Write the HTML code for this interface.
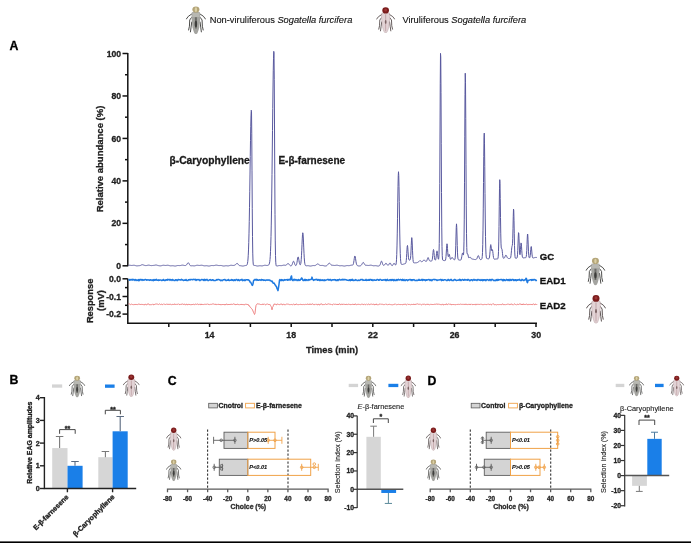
<!DOCTYPE html>
<html><head><meta charset="utf-8"><style>
html,body{margin:0;padding:0;background:#fff;overflow:hidden;}
body{position:relative;width:691px;height:543px;}
svg{display:block;filter:blur(0.35px);}
</style></head><body>
<svg width="691" height="543" viewBox="0 0 691 543">
<rect width="691" height="543" fill="#fff"/>
<defs>
<symbol id="bugG" viewBox="0 0 20 31" preserveAspectRatio="none">
 <g stroke="#3c3c3a" stroke-width="0.95" fill="none" stroke-linecap="round" stroke-linejoin="round">
  <path d="M6.2 9.2 L2.6 11.8 L0.5 14.8"/><path d="M13.8 9.2 L17.4 11.8 L19.5 14.8"/>
  <path d="M5.6 13.2 L3.9 15.8 L3.6 22.5 L2.8 26.5"/><path d="M14.4 13.2 L16.1 15.8 L16.4 22.5 L17.2 26.5"/>
  <path d="M5.9 18 L5.2 23.5 L4.6 28.5"/><path d="M14.1 18 L14.8 23.5 L15.4 28.5"/>
 </g>
 <path d="M6 7.6 Q10 6.4 14 7.6 L14.4 12.5 L13.4 23.5 Q11.9 31 10 31 Q8.1 31 6.6 23.5 L5.6 12.5 Z" fill="#a4a4a0"/>
 <path d="M6.6 8.2 L13.4 8.2 L13.7 12.5 L6.3 12.5 Z" fill="#b8b8b2"/>
 <path d="M9 13 L11 13 L10.9 25 L9.1 25 Z" fill="#6a6a66"/>
 <ellipse cx="10" cy="20" rx="1.2" ry="3.4" fill="#3e3e3c"/>
 <ellipse cx="10" cy="4.6" rx="3.5" ry="3.3" fill="#b3a478"/>
 <ellipse cx="10" cy="4.8" rx="1.2" ry="2.6" fill="#dbd0a4"/>
</symbol>
<symbol id="bugR" viewBox="0 0 20 31" preserveAspectRatio="none">
 <g stroke="#4e4444" stroke-width="0.95" fill="none" stroke-linecap="round" stroke-linejoin="round">
  <path d="M6.2 9.2 L2.6 11.8 L0.5 14.8"/><path d="M13.8 9.2 L17.4 11.8 L19.5 14.8"/>
  <path d="M5.6 13.2 L3.9 15.8 L3.6 22.5 L2.8 26.5"/><path d="M14.4 13.2 L16.1 15.8 L16.4 22.5 L17.2 26.5"/>
  <path d="M5.9 18 L5.2 23.5 L4.6 28.5"/><path d="M14.1 18 L14.8 23.5 L15.4 28.5"/>
 </g>
 <path d="M6 7.6 Q10 6.4 14 7.6 L14.4 12.5 L13.4 23.5 Q11.9 31 10 31 Q8.1 31 6.6 23.5 L5.6 12.5 Z" fill="#e2d3d5" stroke="#b49a9e" stroke-width="0.5"/>
 <path d="M9.4 9 L10.6 9 L10.5 29 L9.5 29 Z" fill="#c4a8ac"/>
 <ellipse cx="10" cy="18" rx="0.9" ry="2.2" fill="#7a6262"/>
 <ellipse cx="10" cy="4.6" rx="3.5" ry="3.6" fill="#7a1c1c"/>
 <ellipse cx="10" cy="4.1" rx="1.5" ry="1.8" fill="#9e3434"/>
</symbol>
</defs>
<use href="#bugG" x="185.8" y="5.2" width="20.2" height="29"/>
<text x="209.7" y="23.2" font-size="9.3" font-family="Liberation Sans, sans-serif" fill="#111" stroke="#111" stroke-width="0.12">Non-viruliferous <tspan font-style="italic">Sogatella furcifera</tspan></text>
<use href="#bugR" x="376.1" y="6.5" width="19.1" height="26.5"/>
<text x="402.4" y="23.2" font-size="9.3" font-family="Liberation Sans, sans-serif" fill="#111" stroke="#111" stroke-width="0.12">Viruliferous <tspan font-style="italic">Sogatella furcifera</tspan></text>
<text x="9.5" y="50" font-size="12.3" font-weight="bold" font-family="Liberation Sans, sans-serif" fill="#000" stroke="#000" stroke-width="0.3">A</text>
<g stroke="#111" stroke-width="1.5" fill="none">
<path d="M127.8 53 V266.3"/>
<path d="M122.5 265.8 H127.8"/>
<path d="M122.5 223.34 H127.8"/>
<path d="M122.5 180.88 H127.8"/>
<path d="M122.5 138.42 H127.8"/>
<path d="M122.5 95.96 H127.8"/>
<path d="M122.5 53.5 H127.8"/>
<path d="M125.0 244.57 H127.8"/>
<path d="M125.0 202.11 H127.8"/>
<path d="M125.0 159.65 H127.8"/>
<path d="M125.0 117.19 H127.8"/>
<path d="M125.0 74.73 H127.8"/>
</g>
<text x="121" y="268.9" font-size="8.6" font-weight="bold" text-anchor="end" font-family="Liberation Sans, sans-serif" fill="#222" stroke="#222" stroke-width="0.3">0</text>
<text x="121" y="226.44" font-size="8.6" font-weight="bold" text-anchor="end" font-family="Liberation Sans, sans-serif" fill="#222" stroke="#222" stroke-width="0.3">20</text>
<text x="121" y="183.98" font-size="8.6" font-weight="bold" text-anchor="end" font-family="Liberation Sans, sans-serif" fill="#222" stroke="#222" stroke-width="0.3">40</text>
<text x="121" y="141.52" font-size="8.6" font-weight="bold" text-anchor="end" font-family="Liberation Sans, sans-serif" fill="#222" stroke="#222" stroke-width="0.3">60</text>
<text x="121" y="99.06" font-size="8.6" font-weight="bold" text-anchor="end" font-family="Liberation Sans, sans-serif" fill="#222" stroke="#222" stroke-width="0.3">80</text>
<text x="121" y="56.6" font-size="8.6" font-weight="bold" text-anchor="end" font-family="Liberation Sans, sans-serif" fill="#222" stroke="#222" stroke-width="0.3">100</text>
<text transform="translate(102.8,159) rotate(-90)" font-size="9.5" font-weight="bold" text-anchor="middle" font-family="Liberation Sans, sans-serif" fill="#222" stroke="#222" stroke-width="0.3">Relative abundance (%)</text>
<polyline points="128.5,265.4 128.75,265.34 129,265.29 129.25,265.26 129.5,265.24 129.75,265.24 130,265.26 130.25,265.29 130.5,265.33 130.75,265.36 131,265.4 131.25,265.43 131.5,265.44 131.75,265.45 132,265.44 132.25,265.42 132.5,265.39 132.75,265.36 133,265.32 133.25,265.29 133.5,265.27 133.75,265.26 134,265.26 134.25,265.28 134.5,265.32 134.75,265.38 135,265.44 135.25,265.52 135.5,265.59 135.75,265.67 136,265.73 136.25,265.78 136.5,265.82 136.75,265.84 137,265.85 137.25,265.84 137.5,265.82 137.75,265.79 138,265.76 138.25,265.73 138.5,265.71 138.75,265.69 139,265.67 139.25,265.66 139.5,265.64 139.75,265.61 140,265.57 140.25,265.5 140.5,265.41 140.75,265.3 141,265.17 141.25,265.03 141.5,264.91 141.75,264.8 142,264.73 142.25,264.7 142.5,264.7 142.75,264.75 143,264.82 143.25,264.91 143.5,265 143.75,265.1 144,265.19 144.25,265.28 144.5,265.36 144.75,265.42 145,265.48 145.25,265.52 145.5,265.55 145.75,265.57 146,265.57 146.25,265.55 146.5,265.52 146.75,265.48 147,265.43 147.25,265.37 147.5,265.31 147.75,265.25 148,265.2 148.25,265.17 148.5,265.15 148.75,265.15 149,265.17 149.25,265.21 149.5,265.25 149.75,265.31 150,265.37 150.25,265.43 150.5,265.49 150.75,265.53 151,265.56 151.25,265.58 151.5,265.58 151.75,265.57 152,265.55 152.25,265.53 152.5,265.5 152.75,265.47 153,265.45 153.25,265.43 153.5,265.41 153.75,265.39 154,265.36 154.25,265.33 154.5,265.28 154.75,265.23 155,265.17 155.25,265.11 155.5,265.07 155.75,265.03 156,265.02 156.25,265.04 156.5,265.08 156.75,265.14 157,265.21 157.25,265.29 157.5,265.36 157.75,265.43 158,265.49 158.25,265.55 158.5,265.6 158.75,265.65 159,265.69 159.25,265.74 159.5,265.77 159.75,265.81 160,265.83 160.25,265.84 160.5,265.83 160.75,265.81 161,265.77 161.25,265.72 161.5,265.66 161.75,265.58 162,265.51 162.25,265.44 162.5,265.37 162.75,265.32 163,265.28 163.25,265.26 163.5,265.25 163.75,265.26 164,265.29 164.25,265.32 164.5,265.36 164.75,265.39 165,265.42 165.25,265.44 165.5,265.45 165.75,265.44 166,265.43 166.25,265.4 166.5,265.36 166.75,265.33 167,265.29 167.25,265.26 167.5,265.25 167.75,265.25 168,265.26 168.25,265.3 168.5,265.35 168.75,265.41 169,265.48 169.25,265.55 169.5,265.63 169.75,265.7 170,265.75 170.25,265.8 170.5,265.82 170.75,265.83 171,265.83 171.25,265.81 171.5,265.79 171.75,265.76 172,265.74 172.25,265.72 172.5,265.71 172.75,265.72 173,265.73 173.25,265.76 173.5,265.8 173.75,265.85 174,265.9 174.25,265.95 174.5,265.99 174.75,266.01 175,266.03 175.25,266.02 175.5,266 175.75,265.96 176,265.9 176.25,265.84 176.5,265.77 176.75,265.7 177,265.64 177.25,265.58 177.5,265.54 177.75,265.51 178,265.5 178.25,265.5 178.5,265.52 178.75,265.54 179,265.56 179.25,265.58 179.5,265.59 179.75,265.59 180,265.57 180.25,265.55 180.5,265.51 180.75,265.45 181,265.4 181.25,265.33 181.5,265.27 181.75,265.22 182,265.18 182.25,265.16 182.5,265.15 182.75,265.16 183,265.19 183.25,265.23 183.5,265.29 183.75,265.35 184,265.41 184.25,265.46 184.5,265.51 184.75,265.54 185,265.55 185.25,265.54 185.5,265.5 185.75,265.43 186,265.32 186.25,265.14 186.5,264.9 186.75,264.58 187,264.19 187.25,263.77 187.5,263.35 187.75,263 188,262.77 188.25,262.71 188.5,262.84 188.75,263.14 189,263.56 189.25,264.05 189.5,264.54 189.75,264.97 190,265.31 190.25,265.55 190.5,265.7 190.75,265.78 191,265.8 191.25,265.8 191.5,265.77 191.75,265.75 192,265.73 192.25,265.72 192.5,265.72 192.75,265.74 193,265.76 193.25,265.79 193.5,265.82 193.75,265.84 194,265.85 194.25,265.85 194.5,265.84 194.75,265.8 195,265.76 195.25,265.69 195.5,265.62 195.75,265.55 196,265.47 196.25,265.4 196.5,265.35 196.75,265.3 197,265.27 197.25,265.26 197.5,265.27 197.75,265.29 198,265.32 198.25,265.35 198.5,265.39 198.75,265.42 199,265.44 199.25,265.45 199.5,265.45 199.75,265.43 200,265.41 200.25,265.37 200.5,265.33 200.75,265.3 201,265.26 201.25,265.24 201.5,265.24 201.75,265.25 202,265.27 202.25,265.32 202.5,265.37 202.75,265.44 203,265.52 203.25,265.59 203.5,265.66 203.75,265.72 204,265.77 204.25,265.8 204.5,265.82 204.75,265.82 205,265.81 205.25,265.79 205.5,265.76 205.75,265.74 206,265.72 206.25,265.7 206.5,265.71 206.75,265.72 207,265.75 207.25,265.79 207.5,265.83 207.75,265.88 208,265.93 208.25,265.98 208.5,266.01 208.75,266.03 209,266.03 209.25,266.01 209.5,265.98 209.75,265.93 210,265.87 210.25,265.8 210.5,265.73 210.75,265.67 211,265.61 211.25,265.57 211.5,265.53 211.75,265.52 212,265.52 212.25,265.53 212.5,265.54 212.75,265.56 213,265.58 213.25,265.6 213.5,265.6 213.75,265.59 214,265.57 214.25,265.53 214.5,265.48 214.75,265.42 215,265.36 215.25,265.3 215.5,265.24 215.75,265.2 216,265.17 216.25,265.15 216.5,265.16 216.75,265.18 217,265.21 217.25,265.26 217.5,265.32 217.75,265.38 218,265.44 218.25,265.48 218.5,265.52 218.75,265.55 219,265.56 219.25,265.55 219.5,265.54 219.75,265.52 220,265.5 220.25,265.48 220.5,265.47 220.75,265.47 221,265.48 221.25,265.51 221.5,265.55 221.75,265.6 222,265.67 222.25,265.74 222.5,265.81 222.75,265.88 223,265.94 223.25,265.98 223.5,266 223.75,266.01 224,266 224.25,265.98 224.5,265.94 224.75,265.9 225,265.85 225.25,265.81 225.5,265.77 225.75,265.74 226,265.73 226.25,265.73 226.5,265.74 226.75,265.76 227,265.79 227.25,265.82 227.5,265.85 227.75,265.86 228,265.87 228.25,265.86 228.5,265.83 228.75,265.79 229,265.73 229.25,265.66 229.5,265.59 229.75,265.51 230,265.44 230.25,265.38 230.5,265.33 230.75,265.29 231,265.27 231.25,265.27 231.5,265.29 231.75,265.31 232,265.35 232.25,265.38 232.5,265.41 232.75,265.44 233,265.45 233.25,265.45 233.5,265.44 233.75,265.41 234,265.37 234.25,265.31 234.5,265.24 234.75,265.15 235,265.04 235.25,264.88 235.5,264.69 235.75,264.45 236,264.17 236.25,263.88 236.5,263.6 236.75,263.4 237,263.3 237.25,263.33 237.5,263.49 237.75,263.76 238,264.11 238.25,264.47 238.5,264.82 238.75,265.11 239,265.33 239.25,265.48 239.5,265.57 239.75,265.62 240,265.65 240.25,265.67 240.5,265.7 240.75,265.73 241,265.76 241.25,265.81 241.5,265.86 241.75,265.92 242,265.96 242.25,266 242.5,266.03 242.75,266.04 243,266.03 243.25,266 243.5,265.96 243.75,265.9 244,265.84 244.25,265.77 244.5,265.7 244.75,265.64 245,265.59 245.25,265.55 245.5,265.53 245.75,265.51 246,265.48 246.25,265.44 246.5,265.36 246.75,265.18 247,264.84 247.25,264.23 247.5,263.21 247.75,261.56 248,259.01 248.25,255.26 248.5,249.93 248.75,242.67 249,233.2 249.25,221.38 249.5,207.27 249.75,191.26 250,174.04 250.25,156.62 250.5,140.25 250.75,126.27 251,115.94 251.25,110.26 251.5,111.51 251.75,133.82 252,170.84 252.25,208.31 252.5,236.47 252.75,253.13 253,261.09 253.25,264.19 253.5,265.17 253.75,265.42 254,265.46 254.25,265.45 254.5,265.45 254.75,265.46 255,265.48 255.25,265.52 255.5,265.57 255.75,265.63 256,265.71 256.25,265.78 256.5,265.85 256.75,265.91 257,265.96 257.25,265.99 257.5,266 257.75,266 258,265.98 258.25,265.95 258.5,265.91 258.75,265.87 259,265.82 259.25,265.78 259.5,265.75 259.75,265.74 260,265.73 260.25,265.74 260.5,265.76 260.75,265.79 261,265.82 261.25,265.85 261.5,265.87 261.75,265.88 262,265.88 262.25,265.85 262.5,265.82 262.75,265.76 263,265.7 263.25,265.63 263.5,265.55 263.75,265.48 264,265.41 264.25,265.35 264.5,265.31 264.75,265.29 265,265.28 265.25,265.29 265.5,265.31 265.75,265.34 266,265.38 266.25,265.41 266.5,265.43 266.75,265.45 267,265.45 267.25,265.44 267.5,265.41 267.75,265.36 268,265.3 268.25,265.2 268.5,265.06 268.75,264.85 269,264.51 269.25,263.96 269.5,263.07 269.75,261.68 270,259.52 270.25,256.3 270.5,251.65 270.75,245.16 271,236.42 271.25,225.09 271.5,210.94 271.75,193.97 272,174.45 272.25,153 272.5,130.58 272.75,108.43 273,88.01 273.25,70.83 273.5,58.25 273.75,51.34 274,52.72 274.25,79.27 274.5,124.97 274.75,174.1 275,214.32 275.25,240.91 275.5,255.48 275.75,262.19 276,264.83 276.25,265.71 276.5,265.97 276.75,266.02 277,266.01 277.25,265.98 277.5,265.93 277.75,265.87 278,265.8 278.25,265.73 278.5,265.67 278.75,265.62 279,265.58 279.25,265.56 279.5,265.54 279.75,265.55 280,265.56 280.25,265.58 280.5,265.6 280.75,265.62 281,265.63 281.25,265.63 281.5,265.61 281.75,265.58 282,265.54 282.25,265.48 282.5,265.42 282.75,265.36 283,265.29 283.25,265.24 283.5,265.19 283.75,265.16 284,265.15 284.25,265.16 284.5,265.18 284.75,265.22 285,265.25 285.25,265.29 285.5,265.3 285.75,265.28 286,265.21 286.25,265.08 286.5,264.88 286.75,264.62 287,264.31 287.25,264 287.5,263.72 287.75,263.53 288,263.45 288.25,263.5 288.5,263.67 288.75,263.95 289,264.28 289.25,264.62 289.5,264.95 289.75,265.24 290,265.47 290.25,265.65 290.5,265.77 290.75,265.84 291,265.85 291.25,265.79 291.5,265.61 291.75,265.3 292,264.84 292.25,264.21 292.5,263.45 292.75,262.66 293,261.94 293.25,261.44 293.5,261.25 293.75,261.41 294,261.89 294.25,262.58 294.5,263.36 294.75,264.1 295,264.72 295.25,265.18 295.5,265.47 295.75,265.58 296,265.51 296.25,265.22 296.5,264.63 296.75,263.68 297,262.36 297.25,260.76 297.5,259.1 297.75,257.72 298,256.95 298.25,256.99 298.5,257.81 298.75,259.19 299,260.78 299.25,262.29 299.5,263.49 299.75,264.31 300,264.76 300.25,264.84 300.5,264.52 300.75,263.65 301,261.99 301.25,259.27 301.5,255.31 301.75,250.21 302,244.45 302.25,238.92 302.5,234.71 302.75,232.78 303,233.6 303.25,236.97 303.5,242.09 303.75,247.88 304,253.34 304.25,257.82 304.5,261.08 304.75,263.21 305,264.48 305.25,265.17 305.5,265.52 305.75,265.68 306,265.75 306.25,265.77 306.5,265.76 306.75,265.75 307,265.72 307.25,265.7 307.5,265.68 307.75,265.68 308,265.68 308.25,265.7 308.5,265.73 308.75,265.77 309,265.82 309.25,265.88 309.5,265.93 309.75,265.98 310,266.02 310.25,266.04 310.5,266.04 310.75,266.03 311,266 311.25,265.95 311.5,265.9 311.75,265.83 312,265.77 312.25,265.7 312.5,265.65 312.75,265.6 313,265.57 313.25,265.56 313.5,265.56 313.75,265.56 314,265.57 314.25,265.58 314.5,265.58 314.75,265.57 315,265.53 315.25,265.45 315.5,265.35 315.75,265.2 316,265.02 316.25,264.81 316.5,264.6 316.75,264.39 317,264.2 317.25,264.06 317.5,263.98 317.75,263.97 318,264.02 318.25,264.14 318.5,264.3 318.75,264.5 319,264.7 319.25,264.9 319.5,265.07 319.75,265.22 320,265.33 320.25,265.41 320.5,265.46 320.75,265.48 321,265.48 321.25,265.47 321.5,265.45 321.75,265.43 322,265.42 322.25,265.42 322.5,265.43 322.75,265.46 323,265.51 323.25,265.56 323.5,265.63 323.75,265.7 324,265.78 324.25,265.85 324.5,265.9 324.75,265.95 325,265.98 325.25,265.99 325.5,265.98 325.75,265.95 326,265.9 326.25,265.83 326.5,265.74 326.75,265.62 327,265.46 327.25,265.26 327.5,265.01 327.75,264.71 328,264.37 328.25,264.01 328.5,263.67 328.75,263.38 329,263.18 329.25,263.1 329.5,263.15 329.75,263.32 330,263.58 330.25,263.9 330.5,264.23 330.75,264.53 331,264.78 331.25,264.97 331.5,265.1 331.75,265.18 332,265.23 332.25,265.25 332.5,265.27 332.75,265.29 333,265.31 333.25,265.34 333.5,265.37 333.75,265.4 334,265.43 334.25,265.45 334.5,265.46 334.75,265.46 335,265.44 335.25,265.41 335.5,265.38 335.75,265.33 336,265.29 336.25,265.25 336.5,265.22 336.75,265.2 337,265.2 337.25,265.22 337.5,265.26 337.75,265.31 338,265.37 338.25,265.44 338.5,265.51 338.75,265.58 339,265.65 339.25,265.7 339.5,265.74 339.75,265.76 340,265.76 340.25,265.76 340.5,265.74 340.75,265.72 341,265.7 341.25,265.68 341.5,265.67 341.75,265.67 342,265.68 342.25,265.71 342.5,265.75 342.75,265.8 343,265.85 343.25,265.91 343.5,265.96 343.75,266 344,266.03 344.25,266.05 344.5,266.04 344.75,266.02 345,265.98 345.25,265.92 345.5,265.86 345.75,265.8 346,265.73 346.25,265.68 346.5,265.63 346.75,265.6 347,265.58 347.25,265.57 347.5,265.58 347.75,265.59 348,265.62 348.25,265.64 348.5,265.65 348.75,265.66 349,265.65 349.25,265.63 349.5,265.59 349.75,265.54 350,265.48 350.25,265.42 350.5,265.35 350.75,265.29 351,265.23 351.25,265.19 351.5,265.17 351.75,265.16 352,265.16 352.25,265.16 352.5,265.13 352.75,265.03 353,264.78 353.25,264.26 353.5,263.39 353.75,262.1 354,260.46 354.25,258.68 354.5,257.13 354.75,256.16 355,256.05 355.25,256.82 355.5,258.26 355.75,260.01 356,261.72 356.25,263.13 356.5,264.15 356.75,264.82 357,265.23 357.25,265.47 357.5,265.62 357.75,265.72 358,265.81 358.25,265.87 358.5,265.93 358.75,265.96 359,265.98 359.25,265.98 359.5,265.96 359.75,265.93 360,265.88 360.25,265.81 360.5,265.73 360.75,265.61 361,265.45 361.25,265.22 361.5,264.92 361.75,264.54 362,264.08 362.25,263.59 362.5,263.11 362.75,262.72 363,262.47 363.25,262.42 363.5,262.57 363.75,262.89 364,263.32 364.25,263.79 364.5,264.24 364.75,264.62 365,264.9 365.25,265.09 365.5,265.2 365.75,265.26 366,265.28 366.25,265.3 366.5,265.31 366.75,265.32 367,265.34 367.25,265.37 367.5,265.4 367.75,265.43 368,265.45 368.25,265.46 368.5,265.46 368.75,265.45 369,265.43 369.25,265.39 369.5,265.35 369.75,265.3 370,265.26 370.25,265.22 370.5,265.2 370.75,265.19 371,265.2 371.25,265.23 371.5,265.28 371.75,265.33 372,265.4 372.25,265.47 372.5,265.55 372.75,265.61 373,265.67 373.25,265.71 373.5,265.74 373.75,265.75 374,265.75 374.25,265.73 374.5,265.71 374.75,265.69 375,265.67 375.25,265.66 375.5,265.65 375.75,265.66 376,265.69 376.25,265.73 376.5,265.77 376.75,265.83 377,265.89 377.25,265.94 377.5,265.99 377.75,266.02 378,266.04 378.25,266.05 378.5,266.03 378.75,265.98 379,265.91 379.25,265.8 379.5,265.63 379.75,265.35 380,264.93 380.25,264.33 380.5,263.56 380.75,262.69 381,261.88 381.25,261.3 381.5,261.1 381.75,261.34 382,261.94 382.25,262.76 382.5,263.61 382.75,264.34 383,264.87 383.25,265.2 383.5,265.36 383.75,265.39 384,265.33 384.25,265.19 384.5,264.97 384.75,264.67 385,264.29 385.25,263.89 385.5,263.52 385.75,263.26 386,263.19 386.25,263.32 386.5,263.62 386.75,264.03 387,264.46 387.25,264.82 387.5,265.1 387.75,265.26 388,265.31 388.25,265.24 388.5,265.05 388.75,264.73 389,264.3 389.25,263.81 389.5,263.35 389.75,263.01 390,262.9 390.25,263.03 390.5,263.39 390.75,263.88 391,264.41 391.25,264.88 391.5,265.25 391.75,265.5 392,265.62 392.25,265.61 392.5,265.47 392.75,265.19 393,264.78 393.25,264.29 393.5,263.8 393.75,263.43 394,263.27 394.25,263.35 394.5,263.65 394.75,264.09 395,264.54 395.25,264.88 395.5,265.06 395.75,264.94 396,264.32 396.25,262.81 396.5,259.78 396.75,254.43 397,245.94 397.25,233.91 397.5,218.77 397.75,202.16 398,186.78 398.25,175.79 398.5,171.73 398.75,175.58 399,186.36 399.25,201.55 399.5,218.01 399.75,233.02 400,244.96 400.25,253.38 400.5,258.71 400.75,261.75 401,263.31 401.25,264.05 401.5,264.35 401.75,264.46 402,264.49 402.25,264.47 402.5,264.43 402.75,264.37 403,264.3 403.25,264.22 403.5,264.14 403.75,264.05 404,263.97 404.25,263.89 404.5,263.82 404.75,263.76 405,263.7 405.25,263.63 405.5,263.49 405.75,263.15 406,262.34 406.25,260.64 406.5,257.69 406.75,253.57 407,249.19 407.25,246.07 407.5,245.48 407.75,247.58 408,251.27 408.25,255.02 408.5,257.76 408.75,259.29 409,259.93 409.25,260.1 409.5,260.11 409.75,260.08 410,259.96 410.25,259.51 410.5,258.25 410.75,255.55 411,251.07 411.25,245.35 411.5,240.12 411.75,237.61 412,239.1 412.25,244 412.5,250.25 412.75,255.78 413,259.54 413.25,261.58 413.5,262.48 413.75,262.79 414,262.87 414.25,262.87 414.5,262.85 414.75,262.83 415,262.82 415.25,262.81 415.5,262.8 415.75,262.8 416,262.78 416.25,262.76 416.5,262.73 416.75,262.69 417,262.63 417.25,262.55 417.5,262.45 417.75,262.34 418,262.21 418.25,262.05 418.5,261.85 418.75,261.62 419,261.35 419.25,261.07 419.5,260.82 419.75,260.65 420,260.58 420.25,260.65 420.5,260.82 420.75,261.05 421,261.29 421.25,261.49 421.5,261.62 421.75,261.69 422,261.67 422.25,261.59 422.5,261.43 422.75,261.19 423,260.89 423.25,260.56 423.5,260.24 423.75,260.01 424,259.92 424.25,259.98 424.5,260.18 424.75,260.47 425,260.79 425.25,261.07 425.5,261.29 425.75,261.43 426,261.49 426.25,261.44 426.5,261.23 426.75,260.83 427,260.2 427.25,259.38 427.5,258.51 427.75,257.82 428,257.51 428.25,257.68 428.5,258.23 428.75,258.99 429,259.72 429.25,260.29 429.5,260.66 429.75,260.87 430,260.98 430.25,261.05 430.5,261.08 430.75,261.1 431,261.11 431.25,261.08 431.5,261.02 431.75,260.86 432,260.47 432.25,259.62 432.5,258.06 432.75,255.68 433,252.86 433.25,250.48 433.5,249.5 433.75,250.37 434,252.66 434.25,255.38 434.5,257.68 434.75,259.17 435,259.93 435.25,260.18 435.5,260.03 435.75,259.41 436,258.13 436.25,256.13 436.5,253.74 436.75,251.71 437,250.87 437.25,251.6 437.5,253.55 437.75,255.86 438,257.78 438.25,258.96 438.5,259.25 438.75,258.19 439,254.12 439.25,243.48 439.5,221.13 439.75,183.32 440,133 440.25,83.29 440.5,53.39 440.75,57 441,92.41 441.25,143.8 441.5,192.4 441.75,227.1 442,246.74 442.25,255.72 442.5,259.09 442.75,260.12 443,260.37 443.25,260.43 443.5,260.45 443.75,260.47 444,260.51 444.25,260.55 444.5,260.6 444.75,260.64 445,260.64 445.25,260.5 445.5,260.03 445.75,258.86 446,256.58 446.25,253.05 446.5,248.83 446.75,245.24 447,243.77 447.25,245.07 447.5,248.46 447.75,252.36 448,255.32 448.25,256.66 448.5,256.49 448.75,255.48 449,254.51 449.25,254.26 449.5,254.96 449.75,256.3 450,257.72 450.25,258.77 450.5,259.27 450.75,259.3 451,258.99 451.25,258.52 451.5,258.02 451.75,257.62 452,257.42 452.25,257.47 452.5,257.73 452.75,258.12 453,258.55 453.25,258.94 453.5,259.25 453.75,259.46 454,259.61 454.25,259.7 454.5,259.74 454.75,259.61 455,259 455.25,257.18 455.5,253.02 455.75,245.71 456,236.09 456.25,227.42 456.5,223.85 456.75,227.35 457,235.97 457.25,245.55 457.5,252.85 457.75,257.02 458,258.88 458.25,259.56 458.5,259.79 458.75,259.88 459,259.96 459.25,260.03 459.5,260.09 459.75,260.15 460,260.19 460.25,260.2 460.5,260.16 460.75,260.02 461,259.7 461.25,259.09 461.5,258.1 461.75,256.75 462,255.2 462.25,253.84 462.5,253.05 462.75,253.11 463,253.9 463.25,254.88 463.5,254.85 463.75,251.54 464,241.17 464.25,219.1 464.5,182.84 464.75,136.87 465,94.61 465.25,73.22 465.5,82.65 465.75,118.4 466,164.81 466.25,205.86 466.5,233.34 466.75,247.53 467,252.86 467.25,253.92 467.5,253.81 467.75,254.02 468,254.9 468.25,256.13 468.5,257.21 468.75,257.83 469,257.96 469.25,257.75 469.5,257.4 469.75,257.11 470,256.98 470.25,257.08 470.5,257.37 470.75,257.76 471,258.18 471.25,258.53 471.5,258.78 471.75,258.94 472,259.02 472.25,259.06 472.5,259.09 472.75,259.12 473,259.16 473.25,259.21 473.5,259.27 473.75,259.33 474,259.39 474.25,259.45 474.5,259.5 474.75,259.53 475,259.55 475.25,259.55 475.5,259.53 475.75,259.5 476,259.43 476.25,259.32 476.5,259.12 476.75,258.81 477,258.35 477.25,257.73 477.5,257.01 477.75,256.31 478,255.79 478.25,255.58 478.5,255.74 478.75,256.26 479,256.99 479.25,257.77 479.5,258.47 479.75,258.99 480,259.32 480.25,259.5 480.5,259.56 480.75,259.55 481,259.51 481.25,259.43 481.5,259.32 481.75,259.06 482,258.39 482.25,256.66 482.5,252.63 482.75,244.45 483,230.16 483.25,208.91 483.5,182.56 483.75,156.41 484,137.86 484.25,133.11 484.5,143.86 484.75,166.32 485,193.33 485.25,218.03 485.5,236.48 485.75,248.05 486,254.23 486.25,257.06 486.5,258.17 486.75,258.53 487,258.63 487.25,258.66 487.5,258.68 487.75,258.7 488,258.74 488.25,258.77 488.5,258.8 488.75,258.78 489,258.63 489.25,258.14 489.5,257.01 489.75,254.89 490,251.78 490.25,248.26 490.5,245.5 490.75,244.61 491,245.8 491.25,248.09 491.5,250.04 491.75,250.69 492,250.2 492.25,249.57 492.5,249.81 492.75,251.28 493,253.51 493.25,255.74 493.5,257.43 493.75,258.44 494,258.94 494.25,259.13 494.5,259.19 494.75,259.2 495,259.17 495.25,259.14 495.5,259.09 495.75,259.05 496,259.01 496.25,258.98 496.5,258.96 496.75,258.96 497,258.96 497.25,258.97 497.5,258.96 497.75,258.81 498,258.18 498.25,256.26 498.5,251.5 498.75,241.91 499,226.4 499.25,206.82 499.5,188.83 499.75,179.68 500,183.55 500.25,198.43 500.5,217.53 500.75,233.86 501,243.88 501.25,247.96 501.5,248.63 501.75,248.56 502,249.34 502.25,251.24 502.5,253.63 502.75,255.74 503,257.19 503.25,257.96 503.5,258.29 503.75,258.36 504,258.27 504.25,258.07 504.5,257.73 504.75,257.26 505,256.68 505.25,256.06 505.5,255.52 505.75,255.18 506,255.12 506.25,255.37 506.5,255.84 506.75,256.42 507,257.01 507.25,257.5 507.5,257.88 507.75,258.14 508,258.31 508.25,258.42 508.5,258.48 508.75,258.51 509,258.52 509.25,258.52 509.5,258.5 509.75,258.47 510,258.41 510.25,258.26 510.5,257.9 510.75,257.08 511,255.52 511.25,253.14 511.5,250.28 511.75,247.76 512,246.3 512.25,245.58 512.5,243.75 512.75,238.27 513,228.28 513.25,216.6 513.5,209.07 513.75,210.4 514,220.28 514.25,233.78 514.5,245.5 514.75,252.92 515,256.51 515.25,257.85 515.5,258.22 515.75,258.28 516,258.27 516.25,258.25 516.5,258.23 516.75,258.17 517,257.89 517.25,257.01 517.5,254.78 517.75,250.42 518,243.95 518.25,237.04 518.5,232.66 518.75,233.14 519,238.16 519.25,245.07 519.5,250.94 519.75,254.24 520,254.77 520.25,252.93 520.5,249.37 520.75,245.41 521,242.91 521.25,243.21 521.5,246.17 521.75,250.25 522,253.82 522.25,256.11 522.5,257.24 522.75,257.69 523,257.84 523.25,257.88 523.5,257.88 523.75,257.86 524,257.83 524.25,257.79 524.5,257.76 524.75,257.73 525,257.7 525.25,257.69 525.5,257.68 525.75,257.63 526,257.39 526.25,256.6 526.5,254.55 526.75,250.51 527,244.48 527.25,238.05 527.5,234.02 527.75,234.55 528,239.38 528.25,246.01 528.5,251.76 528.75,255.41 529,257.17 529.25,257.8 529.5,257.89 529.75,257.64 530,256.91 530.25,255.37 530.5,252.83 530.75,249.72 531,247.2 531.25,246.54 531.5,248.11 531.75,251.08 532,254.09 532.25,256.24 532.5,257.4 532.75,257.87 533,258.01 533.25,258.01 533.5,257.95 533.75,257.88 534,257.8 534.25,257.72 534.5,257.64 534.75,257.57 535,257.51 535.25,257.47 535.5,257.44 535.75,257.42 536,257.42 536.25,257.44 536.5,257.45 536.75,257.47 537,257.48" fill="none" stroke="#58589e" stroke-width="1.0" stroke-linejoin="round"/>
<text x="169.5" y="163.7" font-size="10.25" font-weight="bold" font-family="Liberation Sans, sans-serif" fill="#1a1a1a" stroke="#1a1a1a" stroke-width="0.3">β-Caryophyllene</text>
<text x="278.4" y="163.6" font-size="10" font-weight="bold" font-family="Liberation Sans, sans-serif" fill="#1a1a1a" stroke="#1a1a1a" stroke-width="0.3">E-β-farnesene</text>
<g stroke="#111" stroke-width="1.5" fill="none">
<path d="M127.8 278.8 V323.3 H537"/>
<path d="M122.5 278.8 H127.8"/>
<path d="M122.5 296.5 H127.8"/>
<path d="M122.5 314.1 H127.8"/>
<path d="M125.0 287.6 H127.8"/>
<path d="M125.0 305.3 H127.8"/>
<path d="M168.8 323.3 V327"/>
<path d="M209.6 323.3 V327"/>
<path d="M250.4 323.3 V327"/>
<path d="M291.2 323.3 V327"/>
<path d="M332 323.3 V327"/>
<path d="M372.8 323.3 V327"/>
<path d="M413.6 323.3 V327"/>
<path d="M454.4 323.3 V327"/>
<path d="M495.2 323.3 V327"/>
<path d="M536 323.3 V327"/>
</g>
<text x="121" y="281.9" font-size="8.6" font-weight="bold" text-anchor="end" font-family="Liberation Sans, sans-serif" fill="#222" stroke="#222" stroke-width="0.3">0.0</text>
<text x="121" y="299.6" font-size="8.6" font-weight="bold" text-anchor="end" font-family="Liberation Sans, sans-serif" fill="#222" stroke="#222" stroke-width="0.3">-0.1</text>
<text x="121" y="317.2" font-size="8.6" font-weight="bold" text-anchor="end" font-family="Liberation Sans, sans-serif" fill="#222" stroke="#222" stroke-width="0.3">-0.2</text>
<text transform="translate(92.6,300.9) rotate(-90)" font-size="9.3" font-weight="bold" text-anchor="middle" font-family="Liberation Sans, sans-serif" fill="#222" stroke="#222" stroke-width="0.3">Response</text>
<text transform="translate(104.3,300.6) rotate(-90)" font-size="9.3" font-weight="bold" text-anchor="middle" font-family="Liberation Sans, sans-serif" fill="#222" stroke="#222" stroke-width="0.3">(mV)</text>
<text x="209.6" y="338.3" font-size="8.8" font-weight="bold" text-anchor="middle" font-family="Liberation Sans, sans-serif" fill="#222" stroke="#222" stroke-width="0.3">14</text>
<text x="291.25" y="338.3" font-size="8.8" font-weight="bold" text-anchor="middle" font-family="Liberation Sans, sans-serif" fill="#222" stroke="#222" stroke-width="0.3">18</text>
<text x="372.9" y="338.3" font-size="8.8" font-weight="bold" text-anchor="middle" font-family="Liberation Sans, sans-serif" fill="#222" stroke="#222" stroke-width="0.3">22</text>
<text x="454.55" y="338.3" font-size="8.8" font-weight="bold" text-anchor="middle" font-family="Liberation Sans, sans-serif" fill="#222" stroke="#222" stroke-width="0.3">26</text>
<text x="536.2" y="338.3" font-size="8.8" font-weight="bold" text-anchor="middle" font-family="Liberation Sans, sans-serif" fill="#222" stroke="#222" stroke-width="0.3">30</text>
<text x="332" y="352.8" font-size="9.3" font-weight="bold" text-anchor="middle" font-family="Liberation Sans, sans-serif" fill="#222" stroke="#222" stroke-width="0.3">Times (min)</text>
<polyline points="128.5,279.77 129,279.55 129.5,280.2 130,279.44 130.5,280.05 131,279.83 131.5,279.43 132,280.01 132.5,279.4 133,279.91 133.5,279.44 134,279.47 134.5,279.9 135,280.42 135.5,279.51 136,279.64 136.5,280.17 137,280.58 137.5,280.1 138,279.87 138.5,280.62 139,279.41 139.5,280.47 140,279.73 140.5,279.54 141,279.5 141.5,279.75 142,280.41 142.5,279.58 143,280.11 143.5,280.18 144,279.83 144.5,280.06 145,279.43 145.5,279.43 146,279.62 146.5,280.23 147,279.91 147.5,279.76 148,280.11 148.5,279.94 149,279.74 149.5,280.38 150,280.26 150.5,279.67 151,280.1 151.5,280.03 152,280.49 152.5,280.3 153,279.72 153.5,280.62 154,279.5 154.5,279.89 155,280.33 155.5,279.55 156,279.99 156.5,279.4 157,280.22 157.5,280.34 158,280.09 158.5,280.49 159,279.76 159.5,280.25 160,280.12 160.5,280.1 161,279.94 161.5,280.44 162,280.58 162.5,279.97 163,280.21 163.5,279.43 164,280.26 164.5,280.19 165,280.64 165.5,280.42 166,279.72 166.5,279.85 167,280.22 167.5,279.38 168,279.95 168.5,279.57 169,279.5 169.5,279.43 170,280.35 170.5,279.52 171,279.67 171.5,279.86 172,280.48 172.5,279.45 173,279.93 173.5,280.06 174,280.5 174.5,280.42 175,280.47 175.5,279.71 176,279.89 176.5,279.82 177,280.5 177.5,280.6 178,279.55 178.5,279.58 179,279.65 179.5,279.65 180,279.98 180.5,280.12 181,279.69 181.5,279.36 182,279.89 182.5,279.83 183,280.09 183.5,280.59 184,280.25 184.5,280.02 185,280.15 185.5,280.23 186,279.42 186.5,280.52 187,280.36 187.5,280.49 188,280.39 188.5,279.86 189,279.87 189.5,279.48 190,280.17 190.5,279.43 191,279.44 191.5,279.62 192,279.56 192.5,279.79 193,279.42 193.5,279.35 194,279.55 194.5,279.48 195,279.82 195.5,279.38 196,280.49 196.5,280.15 197,279.54 197.5,279.68 198,279.8 198.5,279.82 199,279.51 199.5,280.45 200,280.64 200.5,279.96 201,279.98 201.5,279.46 202,279.48 202.5,279.8 203,279.69 203.5,280.43 204,279.56 204.5,279.38 205,280.59 205.5,280.04 206,279.54 206.5,280.06 207,279.39 207.5,280.04 208,280.62 208.5,280.47 209,280.26 209.5,279.69 210,279.83 210.5,279.57 211,280.35 211.5,280.04 212,280.36 212.5,279.78 213,279.64 213.5,280.4 214,280.63 214.5,280.46 215,280.4 215.5,280.41 216,280.31 216.5,279.64 217,280.02 217.5,279.81 218,279.39 218.5,279.39 219,279.71 219.5,279.69 220,280.25 220.5,280.59 221,279.93 221.5,280.57 222,280.63 222.5,280.59 223,279.82 223.5,279.64 224,279.64 224.5,279.61 225,279.62 225.5,280.16 226,280.52 226.5,280.44 227,279.97 227.5,280.2 228,280.39 228.5,279.46 229,280.21 229.5,280.53 230,280.37 230.5,280.33 231,279.97 231.5,279.58 232,280.38 232.5,279.78 233,280.39 233.5,280.61 234,279.86 234.5,279.87 235,280.58 235.5,280.29 236,279.57 236.5,279.52 237,279.55 237.5,280.53 238,280.4 238.5,279.54 239,280.42 239.5,280.62 240,280.2 240.5,279.81 241,280.06 241.5,279.52 242,279.37 242.5,280.61 243,280.19 243.5,280.03 244,280.56 244.5,279.91 245,280.48 245.5,280.42 246,279.62 246.5,279.68 247,279.73 247.5,279.66 248,280.11 248.5,279.85 249,280.39 249.5,280.47 250,282.04 250.5,281.96 251,282.82 251.5,283.79 252,285.08 252.5,285.4 253,283.75 253.5,280.92 254,280.04 254.5,280.03 255,279.37 255.5,279.92 256,279.59 256.5,279.36 257,280.39 257.5,279.57 258,279.97 258.5,280.29 259,280.07 259.5,279.77 260,280.02 260.5,280.07 261,280.37 261.5,279.49 262,280.08 262.5,279.67 263,279.71 263.5,280.35 264,280.01 264.5,280.08 265,280.34 265.5,280.54 266,279.93 266.5,280.15 267,280.01 267.5,280.02 268,280.25 268.5,279.94 269,280.04 269.5,279.97 270,280.62 270.5,280.5 271,281.01 271.5,281.45 272,280.98 272.5,281.85 273,282.89 273.5,283.34 274,283.06 274.5,283.72 275,284.86 275.5,285.14 276,286.17 276.5,286.79 277,288.45 277.5,289.52 278,290.62 278.5,287.63 279,284.32 279.5,280.21 280,279.54 280.5,280.5 281,280.61 281.5,279.64 282,280.59 282.5,279.87 283,279.98 283.5,280.64 284,280.43 284.5,279.56 285,279.91 285.5,280.02 286,279.79 286.5,279.6 287,279.76 287.5,280.29 288,279.38 288.5,280.07 289,279.92 289.5,279.37 290,279.78 290.5,279.98 291,276.86 291.5,275.93 292,279.63 292.5,280.37 293,280.61 293.5,279.49 294,279.7 294.5,279.4 295,280.36 295.5,279.7 296,279.52 296.5,279.9 297,280.53 297.5,280.41 298,279.69 298.5,279.54 299,280.54 299.5,280.09 300,280.26 300.5,279.47 301,279.29 301.5,277.9 302,278.4 302.5,279.44 303,280.57 303.5,280.17 304,280.39 304.5,279.46 305,280.46 305.5,279.44 306,280.47 306.5,279.94 307,279.79 307.5,280.07 308,280.55 308.5,279.7 309,279.52 309.5,280.03 310,279.66 310.5,279.49 311,279.56 311.5,279.08 312,277.11 312.5,278.82 313,279.75 313.5,280.34 314,279.73 314.5,280 315,279.58 315.5,279.8 316,279.37 316.5,279.68 317,279.37 317.5,280.3 318,280.07 318.5,279.6 319,279.97 319.5,280.57 320,279.49 320.5,280.41 321,279.91 321.5,279.99 322,280.43 322.5,279.86 323,280.01 323.5,280.24 324,280.63 324.5,279.8 325,280.43 325.5,280.27 326,280.18 326.5,279.88 327,279.8 327.5,279.42 328,279.52 328.5,279.44 329,280.31 329.5,279.68 330,279.56 330.5,279.46 331,280.44 331.5,280.48 332,280.22 332.5,279.72 333,279.66 333.5,279.73 334,279.95 334.5,279.55 335,279.93 335.5,279.69 336,280.6 336.5,280.61 337,280.06 337.5,279.67 338,280.61 338.5,279.75 339,279.81 339.5,279.35 340,279.85 340.5,279.97 341,280 341.5,279.61 342,280.01 342.5,279.36 343,279.69 343.5,279.47 344,279.87 344.5,279.4 345,279.38 345.5,279.75 346,279.65 346.5,280.11 347,280.04 347.5,280.33 348,280.2 348.5,280.28 349,280.49 349.5,279.86 350,279.77 350.5,280.63 351,279.54 351.5,280.29 352,280.19 352.5,279.41 353,280.44 353.5,280.51 354,280.17 354.5,280.3 355,280.41 355.5,279.53 356,280.03 356.5,280.01 357,280.44 357.5,280.4 358,280.42 358.5,280.11 359,280.51 359.5,280.24 360,280.25 360.5,279.65 361,279.39 361.5,279.52 362,279.82 362.5,279.49 363,280.44 363.5,280.08 364,280.17 364.5,280.16 365,280.23 365.5,279.99 366,279.35 366.5,280.39 367,280.32 367.5,280 368,280.05 368.5,280.21 369,279.44 369.5,280.31 370,279.68 370.5,279.45 371,279.7 371.5,280.3 372,279.62 372.5,280.31 373,280.62 373.5,279.99 374,279.85 374.5,279.97 375,280.24 375.5,280.35 376,280.15 376.5,280.19 377,279.45 377.5,279.54 378,279.68 378.5,280.32 379,279.75 379.5,280.09 380,279.37 380.5,279.43 381,279.7 381.5,280.22 382,280.25 382.5,280.23 383,279.73 383.5,280.02 384,279.95 384.5,279.96 385,279.5 385.5,280.51 386,279.61 386.5,280.62 387,280.57 387.5,279.37 388,279.95 388.5,280.42 389,280.61 389.5,279.93 390,279.7 390.5,279.62 391,280.58 391.5,279.62 392,280.11 392.5,279.53 393,280.03 393.5,280.59 394,279.52 394.5,280.42 395,280.01 395.5,280.5 396,280.26 396.5,279.65 397,280.52 397.5,279.98 398,279.38 398.5,279.35 399,279.99 399.5,279.94 400,279.74 400.5,279.53 401,279.8 401.5,279.76 402,280.44 402.5,279.35 403,280.33 403.5,280.44 404,279.51 404.5,280.55 405,280.28 405.5,280.52 406,279.73 406.5,279.83 407,279.86 407.5,280.65 408,280.12 408.5,279.82 409,279.91 409.5,279.71 410,279.41 410.5,279.48 411,280.44 411.5,279.72 412,280.57 412.5,279.67 413,279.7 413.5,280.01 414,279.6 414.5,279.84 415,280.59 415.5,280.5 416,280.41 416.5,280.17 417,280.54 417.5,280.57 418,280.06 418.5,280.29 419,279.41 419.5,280.3 420,279.94 420.5,280.33 421,280.19 421.5,279.72 422,279.41 422.5,280.55 423,279.52 423.5,279.96 424,279.8 424.5,279.74 425,280.31 425.5,280.62 426,279.69 426.5,280.2 427,279.74 427.5,280.07 428,279.86 428.5,279.57 429,279.56 429.5,279.62 430,280.53 430.5,280 431,279.64 431.5,280.53 432,280.65 432.5,279.93 433,279.53 433.5,279.6 434,279.47 434.5,279.79 435,279.47 435.5,279.66 436,279.69 436.5,280.09 437,280.5 437.5,280.32 438,279.89 438.5,279.89 439,280.03 439.5,279.84 440,279.79 440.5,279.43 441,279.71 441.5,280.61 442,279.51 442.5,280 443,280.17 443.5,280.47 444,279.63 444.5,279.7 445,279.67 445.5,279.87 446,279.93 446.5,280.59 447,280.45 447.5,280.48 448,279.38 448.5,279.39 449,280.27 449.5,280.51 450,279.97 450.5,280.11 451,279.35 451.5,279.86 452,280.55 452.5,280.42 453,280.46 453.5,280.61 454,279.67 454.5,279.49 455,279.55 455.5,280.03 456,280.24 456.5,280.57 457,280.29 457.5,280.19 458,280.34 458.5,279.94 459,280.07 459.5,279.4 460,280.37 460.5,279.65 461,280.55 461.5,280.19 462,279.74 462.5,279.52 463,279.68 463.5,280.18 464,280.26 464.5,279.5 465,279.44 465.5,280.03 466,280.11 466.5,279.85 467,279.64 467.5,280.13 468,279.36 468.5,279.74 469,279.95 469.5,280.6 470,280.19 470.5,280.5 471,279.97 471.5,279.66 472,279.67 472.5,280.6 473,280.27 473.5,279.75 474,279.38 474.5,280 475,280.23 475.5,279.9 476,279.68 476.5,280.22 477,280.55 477.5,279.64 478,279.39 478.5,279.79 479,279.9 479.5,280.24 480,279.61 480.5,280.39 481,280.31 481.5,280.01 482,279.62 482.5,280.61 483,279.76 483.5,280.42 484,279.65 484.5,279.64 485,280.34 485.5,279.73 486,280.59 486.5,279.99 487,279.59 487.5,279.64 488,279.89 488.5,280.21 489,280.58 489.5,279.54 490,279.86 490.5,279.63 491,280.62 491.5,279.53 492,279.42 492.5,279.43 493,279.86 493.5,280.52 494,280.5 494.5,280.3 495,280.65 495.5,280.56 496,279.78 496.5,279.59 497,280.57 497.5,280.32 498,279.39 498.5,280.21 499,279.84 499.5,279.84 500,279.78 500.5,279.57 501,279.35 501.5,279.71 502,279.81 502.5,280.59 503,279.51 503.5,280.6 504,279.62 504.5,279.81 505,280.42 505.5,280.42 506,279.91 506.5,279.41 507,279.97 507.5,279.83 508,280.55 508.5,279.6 509,279.82 509.5,280.52 510,279.39 510.5,279.88 511,280.41 511.5,280.35 512,279.4 512.5,279.4 513,279.43 513.5,280.55 514,279.68 514.5,280.32 515,280.52 515.5,279.79 516,279.7 516.5,280.59 517,280.15 517.5,279.69 518,280.28 518.5,279.76 519,279.71 519.5,279.35 520,280.33 520.5,280.54 521,280.17 521.5,280.58 522,279.38 522.5,279.65 523,279.97 523.5,280.59 524,280.59 524.5,279.85 525,279.68 525.5,279.91 526,278.16 526.5,278.81 527,281.94 527.5,282.64 528,280.31 528.5,280.42 529,280.35 529.5,280.14 530,279.78 530.5,279.77 531,279.82 531.5,280.37 532,279.45 532.5,279.61 533,280.33 533.5,279.67 534,279.43 534.5,279.39 535,280.07 535.5,279.77 536,280.62 536.5,280.5 537,280.63" fill="none" stroke="#1f7ae0" stroke-width="1.5" stroke-linejoin="round"/>
<polyline points="128.5,304.14 129,303.94 129.5,303.96 130,304.4 130.5,304.63 131,304.34 131.5,304.11 132,304.31 132.5,304.53 133,304.59 133.5,304.67 134,304.78 134.5,304.58 135,303.98 135.5,304.77 136,304.17 136.5,304.47 137,304.26 137.5,304.66 138,304.07 138.5,304.12 139,304.12 139.5,304.02 140,304.82 140.5,304.49 141,304.21 141.5,304.29 142,304.94 142.5,304.41 143,304.1 143.5,304.74 144,304.57 144.5,304.94 145,303.96 145.5,304.37 146,304.75 146.5,304.77 147,304.86 147.5,303.89 148,304.17 148.5,303.98 149,304.06 149.5,304.92 150,304.49 150.5,304.87 151,304.26 151.5,304.8 152,304.34 152.5,304.14 153,304.71 153.5,304.89 154,303.97 154.5,304.51 155,304.53 155.5,304.09 156,304.26 156.5,304.01 157,304.07 157.5,304.13 158,304.51 158.5,304.57 159,304.07 159.5,303.86 160,304.21 160.5,304.6 161,304.05 161.5,304.19 162,304.07 162.5,304.72 163,304.45 163.5,303.92 164,303.96 164.5,304.28 165,304.46 165.5,304.55 166,303.95 166.5,304.03 167,304.61 167.5,304.3 168,304.16 168.5,304.19 169,304.9 169.5,304.19 170,304.47 170.5,304.24 171,304.31 171.5,304.8 172,304.95 172.5,304.25 173,304.07 173.5,304.65 174,304.07 174.5,303.86 175,304.84 175.5,304.32 176,304.75 176.5,304.3 177,304.82 177.5,304.36 178,304.03 178.5,303.87 179,304.46 179.5,304.55 180,304.85 180.5,303.95 181,304.53 181.5,304.26 182,304.4 182.5,304.01 183,304.16 183.5,304.42 184,304.87 184.5,303.97 185,304.39 185.5,304.74 186,304.91 186.5,304.07 187,303.99 187.5,304.89 188,304.92 188.5,304.38 189,303.91 189.5,304.87 190,304.28 190.5,304.84 191,304.53 191.5,304.76 192,304.03 192.5,304.71 193,304.09 193.5,304.29 194,304.78 194.5,304.76 195,304.05 195.5,304.09 196,304.29 196.5,304.42 197,304.27 197.5,303.99 198,304.12 198.5,304.65 199,304.84 199.5,303.9 200,304.47 200.5,304.68 201,303.89 201.5,304.77 202,303.98 202.5,304.51 203,304.46 203.5,304.54 204,304.19 204.5,304.31 205,304.49 205.5,304.32 206,304.57 206.5,304.34 207,304.33 207.5,303.88 208,304.53 208.5,304.39 209,304.11 209.5,304.69 210,304.71 210.5,304.35 211,304.05 211.5,304.37 212,303.97 212.5,303.99 213,304.32 213.5,303.95 214,304.34 214.5,304.41 215,303.89 215.5,304.55 216,303.94 216.5,304.66 217,304.71 217.5,304.41 218,303.91 218.5,304.4 219,304.27 219.5,304.9 220,304 220.5,304.79 221,304.95 221.5,304.66 222,304.75 222.5,304.06 223,304.93 223.5,304.39 224,304.9 224.5,304.86 225,304.03 225.5,304.72 226,304.87 226.5,303.92 227,304.24 227.5,304.68 228,304.02 228.5,304.84 229,304.15 229.5,304.75 230,304.01 230.5,304.4 231,304.86 231.5,304.08 232,304.14 232.5,304.41 233,304.2 233.5,303.89 234,304.05 234.5,304.03 235,304.88 235.5,304.6 236,304.83 236.5,304.04 237,304.71 237.5,303.98 238,304.43 238.5,304.55 239,304.25 239.5,304.81 240,304.46 240.5,304.49 241,304.82 241.5,303.97 242,304.94 242.5,304.54 243,304.28 243.5,304.73 244,304.14 244.5,304.94 245,304.49 245.5,304.25 246,304.69 246.5,304.34 247,304.04 247.5,304.73 248,304.2 248.5,305.39 249,305.2 249.5,306.14 250,307.1 250.5,307.32 251,308.12 251.5,308.51 252,308.99 252.5,309.91 253,310.97 253.5,312.47 254,313.3 254.5,314.47 255,313.24 255.5,308.9 256,305.5 256.5,304.57 257,303.87 257.5,303.85 258,304.24 258.5,303.97 259,304.24 259.5,304.1 260,304.49 260.5,304.5 261,304.07 261.5,304.54 262,304.37 262.5,304 263,304.88 263.5,304.12 264,304.01 264.5,303.96 265,304.55 265.5,304.81 266,304.71 266.5,304.29 267,304.14 267.5,303.86 268,304.56 268.5,304.47 269,304.24 269.5,304.56 270,304.34 270.5,305.42 271,306.31 271.5,307.28 272,309.84 272.5,307.51 273,306.66 273.5,305.13 274,304.11 274.5,303.91 275,304.71 275.5,303.86 276,304.46 276.5,304.89 277,304.01 277.5,304.07 278,304.52 278.5,304.41 279,304.56 279.5,304.74 280,304.04 280.5,304.19 281,304.18 281.5,303.9 282,304.83 282.5,304.71 283,304.64 283.5,303.86 284,304.78 284.5,304.67 285,304.36 285.5,304.67 286,304.35 286.5,304.1 287,303.97 287.5,304.11 288,303.89 288.5,304.22 289,304.67 289.5,304.61 290,304.78 290.5,304.63 291,304.14 291.5,304.46 292,304.33 292.5,304.72 293,304.43 293.5,304.14 294,304.56 294.5,304.91 295,304.09 295.5,304.82 296,303.87 296.5,304.14 297,304.11 297.5,304.67 298,304.89 298.5,304.67 299,304.21 299.5,304.82 300,304.21 300.5,304.11 301,304.85 301.5,304.54 302,304.61 302.5,304.58 303,304.93 303.5,304.37 304,304.77 304.5,304.62 305,304.79 305.5,304.33 306,304.65 306.5,304.48 307,304.19 307.5,304.08 308,304.53 308.5,303.94 309,304.85 309.5,304.01 310,303.88 310.5,303.97 311,304.87 311.5,304.23 312,304.01 312.5,303.88 313,303.9 313.5,304.61 314,304.55 314.5,304.62 315,304.66 315.5,303.92 316,304.5 316.5,304.25 317,304.75 317.5,304.75 318,304.83 318.5,303.92 319,304.8 319.5,304.86 320,304.89 320.5,303.97 321,304.08 321.5,303.97 322,303.89 322.5,304.78 323,304.74 323.5,304.55 324,304.76 324.5,304.54 325,304.17 325.5,303.96 326,303.96 326.5,304.68 327,304.08 327.5,304.2 328,304.32 328.5,303.87 329,304.13 329.5,304.16 330,304.64 330.5,304.25 331,304.2 331.5,304.91 332,304.4 332.5,304.79 333,304.53 333.5,303.88 334,304.3 334.5,304.33 335,304.7 335.5,304.23 336,304.63 336.5,304.44 337,304.09 337.5,304.8 338,303.95 338.5,304.75 339,304.04 339.5,303.85 340,304.07 340.5,304.69 341,304.93 341.5,303.85 342,304.39 342.5,304.39 343,304.73 343.5,304.05 344,304.39 344.5,304.23 345,304.77 345.5,304.14 346,304.89 346.5,304.16 347,304.09 347.5,304.62 348,304.4 348.5,303.97 349,304.55 349.5,303.94 350,304.72 350.5,304.62 351,304.72 351.5,304.54 352,304.24 352.5,304.29 353,304.28 353.5,304.83 354,303.94 354.5,304.83 355,303.88 355.5,304.08 356,304.14 356.5,304.84 357,304.4 357.5,304.27 358,304.82 358.5,304.11 359,304.36 359.5,304.43 360,304.68 360.5,304.68 361,304.56 361.5,304.23 362,304.21 362.5,304.02 363,304.78 363.5,304.58 364,304.67 364.5,304.04 365,304.33 365.5,304.7 366,304.49 366.5,303.99 367,304.36 367.5,304.82 368,304.11 368.5,304.06 369,304.18 369.5,304.62 370,304.78 370.5,304.02 371,304.02 371.5,304.12 372,304.21 372.5,304.42 373,304.03 373.5,304.21 374,304.06 374.5,304.92 375,304.65 375.5,303.96 376,304.91 376.5,303.96 377,304.27 377.5,304.93 378,304.72 378.5,304.66 379,304.33 379.5,304.07 380,304.55 380.5,303.97 381,304.08 381.5,304.28 382,303.89 382.5,304.29 383,304.72 383.5,304.61 384,304.4 384.5,304.55 385,304.36 385.5,304.01 386,304.51 386.5,304.3 387,304.67 387.5,304.85 388,304.32 388.5,304.48 389,304.67 389.5,304.31 390,304.1 390.5,304.64 391,304.82 391.5,304.7 392,304.62 392.5,304.79 393,304.6 393.5,304.56 394,304.35 394.5,304.19 395,304.54 395.5,303.96 396,304.31 396.5,304.71 397,304.63 397.5,304.54 398,304.13 398.5,304.32 399,304.35 399.5,304.53 400,304.3 400.5,304.59 401,304.87 401.5,304.05 402,304.57 402.5,304.71 403,304.28 403.5,304.39 404,304.92 404.5,303.89 405,304.45 405.5,304.03 406,304.71 406.5,304.88 407,304.42 407.5,303.96 408,304.48 408.5,304.45 409,304.64 409.5,304.41 410,304.55 410.5,304.76 411,304.42 411.5,304.3 412,304.89 412.5,304.08 413,304.6 413.5,304.28 414,304.69 414.5,303.98 415,304.93 415.5,304.24 416,303.91 416.5,304.15 417,304.29 417.5,303.86 418,304.31 418.5,304.31 419,304.62 419.5,304.24 420,304.14 420.5,304.1 421,304.67 421.5,304.88 422,304.43 422.5,304.09 423,304.73 423.5,304.28 424,304.08 424.5,303.99 425,304.7 425.5,304.74 426,304.55 426.5,304.37 427,304.47 427.5,304.1 428,304.91 428.5,304.24 429,304.55 429.5,304.75 430,304.75 430.5,304.36 431,304.17 431.5,304.45 432,303.99 432.5,304.77 433,304.24 433.5,304.79 434,304.14 434.5,304.26 435,304.13 435.5,304.32 436,304.05 436.5,303.85 437,304.64 437.5,304.16 438,304.12 438.5,304.18 439,304.38 439.5,304.32 440,304.55 440.5,304.58 441,304.25 441.5,304.87 442,304.79 442.5,303.91 443,304.76 443.5,304.85 444,304.71 444.5,304 445,304.76 445.5,304.55 446,303.87 446.5,303.86 447,304.9 447.5,304.57 448,304.13 448.5,303.96 449,304.01 449.5,304.11 450,304.7 450.5,304.23 451,304.02 451.5,304.84 452,304.72 452.5,304.03 453,304.83 453.5,304.52 454,304.71 454.5,304.59 455,304.83 455.5,304.72 456,304.77 456.5,304.07 457,304.61 457.5,304.43 458,304.67 458.5,304.33 459,304.82 459.5,304.46 460,304.14 460.5,304.11 461,304 461.5,304.39 462,303.91 462.5,304.36 463,304.01 463.5,304.39 464,304.4 464.5,304.44 465,304.8 465.5,303.86 466,304.77 466.5,304.36 467,304.47 467.5,304.58 468,304.77 468.5,304.26 469,304.31 469.5,304.91 470,303.93 470.5,304.55 471,304.55 471.5,303.88 472,304.52 472.5,304.6 473,304.87 473.5,304.21 474,304.93 474.5,304.41 475,304.38 475.5,304.84 476,303.89 476.5,304.64 477,304.54 477.5,304.22 478,304.8 478.5,304.25 479,304.37 479.5,304.43 480,304.7 480.5,304.08 481,304.33 481.5,304.31 482,304.46 482.5,304.76 483,304.17 483.5,304.76 484,304.29 484.5,304.4 485,304.15 485.5,304.41 486,304.92 486.5,304.57 487,304.72 487.5,304.21 488,304.2 488.5,304.18 489,304.5 489.5,304.55 490,304.71 490.5,303.89 491,304.64 491.5,304.82 492,304.45 492.5,303.9 493,304.18 493.5,303.86 494,304.06 494.5,304.86 495,304.52 495.5,304.57 496,304.72 496.5,304.85 497,304.52 497.5,304.53 498,304.54 498.5,304.62 499,304.51 499.5,304.6 500,304.08 500.5,304.58 501,304.35 501.5,304.69 502,303.96 502.5,304.05 503,303.89 503.5,304.7 504,304.86 504.5,304.57 505,304.26 505.5,304.75 506,304.72 506.5,304.47 507,304.13 507.5,304.18 508,304.31 508.5,304.2 509,304.32 509.5,304.56 510,304.88 510.5,303.91 511,304.47 511.5,303.89 512,303.98 512.5,304.74 513,304.48 513.5,304.86 514,304.34 514.5,303.87 515,304.28 515.5,304.5 516,304.88 516.5,304.93 517,304.37 517.5,304.3 518,303.96 518.5,304.56 519,304.08 519.5,304.02 520,303.87 520.5,303.86 521,304.6 521.5,303.98 522,304.91 522.5,303.95 523,304.81 523.5,303.99 524,303.87 524.5,304.64 525,304.12 525.5,304.66 526,304.06 526.5,303.91 527,304.7 527.5,304.63 528,304.79 528.5,304.65 529,303.94 529.5,304.54 530,304.63 530.5,304.36 531,304.88 531.5,304.13 532,304.91 532.5,304.64 533,303.86 533.5,303.87 534,304.57 534.5,304.75 535,303.94 535.5,304.19 536,304.65 536.5,304.03 537,304.8" fill="none" stroke="#ec7676" stroke-width="0.9" stroke-linejoin="round"/>
<text x="539.8" y="260.4" font-size="9.6" font-weight="bold" font-family="Liberation Sans, sans-serif" fill="#111" stroke="#111" stroke-width="0.3">GC</text>
<text x="539.8" y="284.2" font-size="9.7" font-weight="bold" font-family="Liberation Sans, sans-serif" fill="#111" stroke="#111" stroke-width="0.3">EAD1</text>
<text x="539.8" y="309" font-size="9.7" font-weight="bold" font-family="Liberation Sans, sans-serif" fill="#111" stroke="#111" stroke-width="0.3">EAD2</text>
<use href="#bugG" x="585.5" y="256.6" width="19.9" height="29"/>
<use href="#bugR" x="586" y="294" width="20" height="29.5"/>
<text x="9.5" y="384.4" font-size="12.3" font-weight="bold" font-family="Liberation Sans, sans-serif" fill="#000" stroke="#000" stroke-width="0.3">B</text>
<rect x="52" y="384.4" width="10.2" height="3.3" fill="#d4d4d4"/>
<use href="#bugG" x="69" y="374.8" width="16.3" height="22.7"/>
<rect x="105" y="384.5" width="9.6" height="3.3" fill="#1a7fe8"/>
<use href="#bugR" x="122.9" y="373.8" width="16.8" height="23.2"/>
<rect x="52.2" y="448.09" width="15.3" height="40.41" fill="#d6d6d6"/>
<rect x="67.5" y="465.8" width="15.1" height="22.7" fill="#1a7fe8"/>
<rect x="98.3" y="457.17" width="14.3" height="31.33" fill="#d6d6d6"/>
<rect x="112.6" y="431.3" width="15.1" height="57.2" fill="#1a7fe8"/>
<path d="M59.6 448.09 V436.52 M55.85 436.52 H63.35" fill="none" stroke="#7a7a7a" stroke-width="1.1"/>
<path d="M75 465.8 V461.49 M71.25 461.49 H78.75" fill="none" stroke="#5a6a80" stroke-width="1.1"/>
<path d="M105.4 457.17 V451.5 M101.65 451.5 H109.15" fill="none" stroke="#7a7a7a" stroke-width="1.1"/>
<path d="M120.2 431.3 V416.54 M116.45 416.54 H123.95" fill="none" stroke="#5a6a80" stroke-width="1.1"/>
<path d="M59.6 433.8 V429.6 H75.2 V433.8" fill="none" stroke="#333" stroke-width="0.9"/>
<path d="M105.3 414.3 V410.3 H120.4 V414.3" fill="none" stroke="#333" stroke-width="0.9"/>
<text x="67.4" y="431" font-size="7" font-weight="bold" text-anchor="middle" font-family="Liberation Sans, sans-serif" fill="#222" stroke="#222" stroke-width="0.3">**</text>
<text x="112.9" y="411.6" font-size="7" font-weight="bold" text-anchor="middle" font-family="Liberation Sans, sans-serif" fill="#222" stroke="#222" stroke-width="0.3">**</text>
<g stroke="#222" stroke-width="1.4" fill="none">
<path d="M44.4 397 V488.5 H136.2"/>
<path d="M39.9 488.5 H44.4"/>
<path d="M39.9 465.8 H44.4"/>
<path d="M39.9 443.1 H44.4"/>
<path d="M39.9 420.4 H44.4"/>
<path d="M39.9 397.7 H44.4"/>
<path d="M67.4 488.5 V492.3 M112.6 488.5 V492.3"/>
</g>
<text x="39.8" y="491" font-size="7.2" font-weight="bold" text-anchor="end" font-family="Liberation Sans, sans-serif" fill="#222" stroke="#222" stroke-width="0.3">0</text>
<text x="39.8" y="468.3" font-size="7.2" font-weight="bold" text-anchor="end" font-family="Liberation Sans, sans-serif" fill="#222" stroke="#222" stroke-width="0.3">1</text>
<text x="39.8" y="445.6" font-size="7.2" font-weight="bold" text-anchor="end" font-family="Liberation Sans, sans-serif" fill="#222" stroke="#222" stroke-width="0.3">2</text>
<text x="39.8" y="422.9" font-size="7.2" font-weight="bold" text-anchor="end" font-family="Liberation Sans, sans-serif" fill="#222" stroke="#222" stroke-width="0.3">3</text>
<text x="39.8" y="400.2" font-size="7.2" font-weight="bold" text-anchor="end" font-family="Liberation Sans, sans-serif" fill="#222" stroke="#222" stroke-width="0.3">4</text>
<text transform="translate(31.8,442.6) rotate(-90)" font-size="6.95" font-weight="bold" text-anchor="middle" font-family="Liberation Sans, sans-serif" fill="#1a1a1a" stroke="#1a1a1a" stroke-width="0.3">Relative EAG amplitudes</text>
<text transform="translate(69,497.5) rotate(-45)" font-size="7" font-weight="bold" text-anchor="end" font-family="Liberation Sans, sans-serif" fill="#1a1a1a" stroke="#1a1a1a" stroke-width="0.3">E-β-farnesene</text>
<text transform="translate(115,497.5) rotate(-45)" font-size="7.1" font-weight="bold" text-anchor="end" font-family="Liberation Sans, sans-serif" fill="#1a1a1a" stroke="#1a1a1a" stroke-width="0.3">β-Caryophyllene</text>
<text x="167.7" y="384.6" font-size="12.3" font-weight="bold" font-family="Liberation Sans, sans-serif" fill="#000" stroke="#000" stroke-width="0.3">C</text>
<rect x="208.7" y="403.3" width="8.8" height="4.6" fill="#d4d4d4" stroke="#5a5a5a" stroke-width="0.8"/>
<text x="218.5" y="408.1" font-size="6.9" font-weight="bold" font-family="Liberation Sans, sans-serif" fill="#222" stroke="#222" stroke-width="0.3">Cnotrol</text>
<rect x="245.6" y="403.3" width="8.8" height="4.6" fill="#fff" stroke="#f0a248" stroke-width="0.9"/>
<text x="255.9" y="408.1" font-size="6.9" font-weight="bold" font-family="Liberation Sans, sans-serif" fill="#222" stroke="#222" stroke-width="0.3">E-β-farnesene</text>
<g stroke="#333" stroke-width="1.1" stroke-dasharray="2.2 1.8" fill="none"><path d="M207.6 429.5 V489 M288 429.5 V489"/></g>
<rect x="224" y="432.2" width="23.8" height="16.2" fill="#d4d4d4" stroke="#5e5e5e" stroke-width="0.9"/>
<rect x="247.8" y="432.2" width="27.2" height="16.2" fill="none" stroke="#f0a248" stroke-width="1"/>
<path d="M213.6 440.3 H234.9 M213.6 436.8 V443.8 M234.9 436.8 V443.8" fill="none" stroke="#5e5e5e" stroke-width="0.9"/>
<circle cx="221.2" cy="440.3" r="1.3" fill="none" stroke="#5e5e5e" stroke-width="0.8"/>
<circle cx="234.9" cy="440.3" r="1.3" fill="none" stroke="#5e5e5e" stroke-width="0.8"/>
<path d="M268.2 440.3 H281.9 M268.2 436.8 V443.8 M281.9 436.8 V443.8" fill="none" stroke="#f0a248" stroke-width="0.9"/>
<circle cx="268.2" cy="440.3" r="1.3" fill="none" stroke="#f0a248" stroke-width="0.9"/>
<circle cx="275" cy="440.3" r="1.3" fill="none" stroke="#f0a248" stroke-width="0.9"/>
<text x="249.3" y="442.3" font-size="5.6" font-weight="bold" font-style="italic" font-family="Liberation Sans, sans-serif" fill="#111" stroke="#111" stroke-width="0.12">P&gt;0.05</text>
<use href="#bugR" x="166" y="426.8" width="15.4" height="23.9"/>
<rect x="219.3" y="459.2" width="28.5" height="16.2" fill="#d4d4d4" stroke="#5e5e5e" stroke-width="0.9"/>
<rect x="247.8" y="459.2" width="62.9" height="16.2" fill="none" stroke="#f0a248" stroke-width="1"/>
<path d="M214.2 467.3 H222.3 M214.2 463.8 V470.8 M222.3 463.8 V470.8" fill="none" stroke="#5e5e5e" stroke-width="0.9"/>
<circle cx="214.2" cy="467.3" r="1.3" fill="none" stroke="#5e5e5e" stroke-width="0.8"/>
<circle cx="221.5" cy="465.8" r="1.3" fill="none" stroke="#5e5e5e" stroke-width="0.8"/>
<circle cx="221.5" cy="468.8" r="1.3" fill="none" stroke="#5e5e5e" stroke-width="0.8"/>
<path d="M301.7 467.3 H318.3 M301.7 463.8 V470.8 M318.3 463.8 V470.8" fill="none" stroke="#f0a248" stroke-width="0.9"/>
<circle cx="301.7" cy="467.3" r="1.3" fill="none" stroke="#f0a248" stroke-width="0.9"/>
<circle cx="314.3" cy="467.3" r="1.3" fill="none" stroke="#f0a248" stroke-width="0.9"/>
<circle cx="314.3" cy="464.1" r="1.3" fill="none" stroke="#f0a248" stroke-width="0.9"/>
<text x="249.3" y="469.3" font-size="5.6" font-weight="bold" font-style="italic" font-family="Liberation Sans, sans-serif" fill="#111" stroke="#111" stroke-width="0.12">P&lt;0.01</text>
<use href="#bugG" x="166" y="458.6" width="15.4" height="22.6"/>
<g stroke="#5a5a5a" stroke-width="1.3" fill="none"><path d="M167.5 492.2 V489.1 H328.1 V492.2"/>
<path d="M187.57 489.1 V492.2"/>
<path d="M207.64 489.1 V492.2"/>
<path d="M227.71 489.1 V492.2"/>
<path d="M247.78 489.1 V492.2"/>
<path d="M267.85 489.1 V492.2"/>
<path d="M287.92 489.1 V492.2"/>
<path d="M307.99 489.1 V492.2"/>
</g>
<text x="167.5" y="500.7" font-size="6.4" font-weight="bold" text-anchor="middle" font-family="Liberation Sans, sans-serif" fill="#2a2a2a" stroke="#2a2a2a" stroke-width="0.3">-80</text>
<text x="187.57" y="500.7" font-size="6.4" font-weight="bold" text-anchor="middle" font-family="Liberation Sans, sans-serif" fill="#2a2a2a" stroke="#2a2a2a" stroke-width="0.3">-60</text>
<text x="207.64" y="500.7" font-size="6.4" font-weight="bold" text-anchor="middle" font-family="Liberation Sans, sans-serif" fill="#2a2a2a" stroke="#2a2a2a" stroke-width="0.3">-40</text>
<text x="227.71" y="500.7" font-size="6.4" font-weight="bold" text-anchor="middle" font-family="Liberation Sans, sans-serif" fill="#2a2a2a" stroke="#2a2a2a" stroke-width="0.3">-20</text>
<text x="247.78" y="500.7" font-size="6.4" font-weight="bold" text-anchor="middle" font-family="Liberation Sans, sans-serif" fill="#2a2a2a" stroke="#2a2a2a" stroke-width="0.3">0</text>
<text x="267.85" y="500.7" font-size="6.4" font-weight="bold" text-anchor="middle" font-family="Liberation Sans, sans-serif" fill="#2a2a2a" stroke="#2a2a2a" stroke-width="0.3">20</text>
<text x="287.92" y="500.7" font-size="6.4" font-weight="bold" text-anchor="middle" font-family="Liberation Sans, sans-serif" fill="#2a2a2a" stroke="#2a2a2a" stroke-width="0.3">40</text>
<text x="307.99" y="500.7" font-size="6.4" font-weight="bold" text-anchor="middle" font-family="Liberation Sans, sans-serif" fill="#2a2a2a" stroke="#2a2a2a" stroke-width="0.3">60</text>
<text x="328.06" y="500.7" font-size="6.4" font-weight="bold" text-anchor="middle" font-family="Liberation Sans, sans-serif" fill="#2a2a2a" stroke="#2a2a2a" stroke-width="0.3">80</text>
<text x="248.3" y="509.3" font-size="6.9" font-weight="bold" text-anchor="middle" font-family="Liberation Sans, sans-serif" fill="#2a2a2a" stroke="#2a2a2a" stroke-width="0.3">Choice (%)</text>
<rect x="348.7" y="383.8" width="9.4" height="3.3" fill="#d4d4d4"/>
<use href="#bugG" x="360.7" y="374.8" width="15.6" height="23.2"/>
<rect x="388.4" y="383.8" width="9.9" height="3.3" fill="#1a7fe8"/>
<use href="#bugR" x="400.6" y="374.8" width="15.4" height="23.2"/>
<text x="357.6" y="409.2" font-size="7.35" font-family="Liberation Sans, sans-serif" fill="#222" stroke="#222" stroke-width="0.12"><tspan font-style="italic">E</tspan>-β-farnesene</text>
<rect x="366.4" y="436.82" width="14.4" height="52.48" fill="#d6d6d6"/>
<rect x="381.3" y="489.3" width="14.8" height="3.67" fill="#1a7fe8"/>
<path d="M373.6 436.82 V426.18 M370.3 426.18 H376.9" fill="none" stroke="#7a7a7a" stroke-width="1.0"/>
<path d="M388.4 492.97 V503.43 M384.8 503.43 H392" fill="none" stroke="#5a8a9a" stroke-width="1.0"/>
<path d="M357.2 489.3 H403.3" stroke="#555" stroke-width="1.5" fill="none"/>
<g stroke="#333" stroke-width="1.2" fill="none"><path d="M357.2 415.8 V508"/>
<path d="M353.4 415.9 H357.2"/>
<path d="M353.4 434.25 H357.2"/>
<path d="M353.4 452.6 H357.2"/>
<path d="M353.4 470.95 H357.2"/>
<path d="M353.4 489.3 H357.2"/>
<path d="M353.4 507.65 H357.2"/>
</g>
<text x="354" y="418.3" font-size="6.8" font-weight="bold" text-anchor="end" font-family="Liberation Sans, sans-serif" fill="#222" stroke="#222" stroke-width="0.3">40</text>
<text x="354" y="436.65" font-size="6.8" font-weight="bold" text-anchor="end" font-family="Liberation Sans, sans-serif" fill="#222" stroke="#222" stroke-width="0.3">30</text>
<text x="354" y="455" font-size="6.8" font-weight="bold" text-anchor="end" font-family="Liberation Sans, sans-serif" fill="#222" stroke="#222" stroke-width="0.3">20</text>
<text x="354" y="473.35" font-size="6.8" font-weight="bold" text-anchor="end" font-family="Liberation Sans, sans-serif" fill="#222" stroke="#222" stroke-width="0.3">10</text>
<text x="354" y="491.7" font-size="6.8" font-weight="bold" text-anchor="end" font-family="Liberation Sans, sans-serif" fill="#222" stroke="#222" stroke-width="0.3">0</text>
<text x="354" y="510.05" font-size="6.8" font-weight="bold" text-anchor="end" font-family="Liberation Sans, sans-serif" fill="#222" stroke="#222" stroke-width="0.3">-10</text>
<path d="M373.4 423 V418.8 H388.3 V423" fill="none" stroke="#333" stroke-width="0.9"/>
<text x="380.8" y="419.4" font-size="7" font-weight="bold" text-anchor="middle" font-family="Liberation Sans, sans-serif" fill="#222" stroke="#222" stroke-width="0.3">*</text>
<text transform="translate(340,462.3) rotate(-90)" font-size="7.2" text-anchor="middle" font-family="Liberation Sans, sans-serif" fill="#222" stroke="#222" stroke-width="0.12">Selection index (%)</text>
<text x="427.4" y="384.6" font-size="12.3" font-weight="bold" font-family="Liberation Sans, sans-serif" fill="#000" stroke="#000" stroke-width="0.3">D</text>
<rect x="471.2" y="403.3" width="8.8" height="4.6" fill="#d4d4d4" stroke="#5a5a5a" stroke-width="0.8"/>
<text x="481" y="408.1" font-size="6.9" font-weight="bold" font-family="Liberation Sans, sans-serif" fill="#222" stroke="#222" stroke-width="0.3">Control</text>
<rect x="508.6" y="403.3" width="8.8" height="4.6" fill="#fff" stroke="#f0a248" stroke-width="0.9"/>
<text x="518.9" y="408.1" font-size="6.9" font-weight="bold" font-family="Liberation Sans, sans-serif" fill="#222" stroke="#222" stroke-width="0.3">β-Caryophyllene</text>
<g stroke="#333" stroke-width="1.1" stroke-dasharray="2.2 1.8" fill="none"><path d="M470.3 429.5 V489 M550.7 429.5 V489"/></g>
<rect x="486.2" y="432.2" width="24.3" height="16.2" fill="#d4d4d4" stroke="#5e5e5e" stroke-width="0.9"/>
<rect x="510.5" y="432.2" width="47.2" height="16.2" fill="none" stroke="#f0a248" stroke-width="1"/>
<path d="M482.5 440.3 H491.2 M482.5 436.8 V443.8 M491.2 436.8 V443.8" fill="none" stroke="#5e5e5e" stroke-width="0.9"/>
<circle cx="482.5" cy="438.3" r="1.3" fill="none" stroke="#5e5e5e" stroke-width="0.8"/>
<circle cx="482.5" cy="442.3" r="1.3" fill="none" stroke="#5e5e5e" stroke-width="0.8"/>
<circle cx="491.2" cy="440.3" r="1.3" fill="none" stroke="#5e5e5e" stroke-width="0.8"/>
<path d="M557.7 440.3 H557.7 M557.7 436.8 V443.8 M557.7 436.8 V443.8" fill="none" stroke="#f0a248" stroke-width="0.9"/>
<circle cx="557.7" cy="436.7" r="1.3" fill="none" stroke="#f0a248" stroke-width="0.9"/>
<circle cx="557.7" cy="440.3" r="1.3" fill="none" stroke="#f0a248" stroke-width="0.9"/>
<circle cx="557.7" cy="443.9" r="1.3" fill="none" stroke="#f0a248" stroke-width="0.9"/>
<text x="512" y="442.3" font-size="5.6" font-weight="bold" font-style="italic" font-family="Liberation Sans, sans-serif" fill="#111" stroke="#111" stroke-width="0.12">P&lt;0.01</text>
<use href="#bugR" x="425.7" y="426.8" width="15.4" height="23.9"/>
<rect x="484.3" y="459.2" width="26.2" height="16.2" fill="#d4d4d4" stroke="#5e5e5e" stroke-width="0.9"/>
<rect x="510.5" y="459.2" width="29.5" height="16.2" fill="none" stroke="#f0a248" stroke-width="1"/>
<path d="M476.5 467.3 H491.2 M476.5 463.8 V470.8 M491.2 463.8 V470.8" fill="none" stroke="#5e5e5e" stroke-width="0.9"/>
<circle cx="476.5" cy="467.3" r="1.3" fill="none" stroke="#5e5e5e" stroke-width="0.8"/>
<circle cx="483.9" cy="467.3" r="1.3" fill="none" stroke="#5e5e5e" stroke-width="0.8"/>
<circle cx="491.2" cy="467.3" r="1.3" fill="none" stroke="#5e5e5e" stroke-width="0.8"/>
<path d="M535.8 467.3 H544.3 M535.8 463.8 V470.8 M544.3 463.8 V470.8" fill="none" stroke="#f0a248" stroke-width="0.9"/>
<circle cx="535.8" cy="467.3" r="1.3" fill="none" stroke="#f0a248" stroke-width="0.9"/>
<circle cx="539.1" cy="467.3" r="1.3" fill="none" stroke="#f0a248" stroke-width="0.9"/>
<circle cx="544.3" cy="467.3" r="1.3" fill="none" stroke="#f0a248" stroke-width="0.9"/>
<text x="512" y="469.3" font-size="5.6" font-weight="bold" font-style="italic" font-family="Liberation Sans, sans-serif" fill="#111" stroke="#111" stroke-width="0.12">P&gt;0.05</text>
<use href="#bugG" x="425.7" y="458.6" width="15.4" height="22.6"/>
<g stroke="#5a5a5a" stroke-width="1.3" fill="none"><path d="M430.2 492.2 V489.1 H590.8 V492.2"/>
<path d="M450.27 489.1 V492.2"/>
<path d="M470.34 489.1 V492.2"/>
<path d="M490.41 489.1 V492.2"/>
<path d="M510.48 489.1 V492.2"/>
<path d="M530.55 489.1 V492.2"/>
<path d="M550.62 489.1 V492.2"/>
<path d="M570.69 489.1 V492.2"/>
</g>
<text x="430.2" y="500.7" font-size="6.4" font-weight="bold" text-anchor="middle" font-family="Liberation Sans, sans-serif" fill="#2a2a2a" stroke="#2a2a2a" stroke-width="0.3">-80</text>
<text x="450.27" y="500.7" font-size="6.4" font-weight="bold" text-anchor="middle" font-family="Liberation Sans, sans-serif" fill="#2a2a2a" stroke="#2a2a2a" stroke-width="0.3">-60</text>
<text x="470.34" y="500.7" font-size="6.4" font-weight="bold" text-anchor="middle" font-family="Liberation Sans, sans-serif" fill="#2a2a2a" stroke="#2a2a2a" stroke-width="0.3">-40</text>
<text x="490.41" y="500.7" font-size="6.4" font-weight="bold" text-anchor="middle" font-family="Liberation Sans, sans-serif" fill="#2a2a2a" stroke="#2a2a2a" stroke-width="0.3">-20</text>
<text x="510.48" y="500.7" font-size="6.4" font-weight="bold" text-anchor="middle" font-family="Liberation Sans, sans-serif" fill="#2a2a2a" stroke="#2a2a2a" stroke-width="0.3">0</text>
<text x="530.55" y="500.7" font-size="6.4" font-weight="bold" text-anchor="middle" font-family="Liberation Sans, sans-serif" fill="#2a2a2a" stroke="#2a2a2a" stroke-width="0.3">20</text>
<text x="550.62" y="500.7" font-size="6.4" font-weight="bold" text-anchor="middle" font-family="Liberation Sans, sans-serif" fill="#2a2a2a" stroke="#2a2a2a" stroke-width="0.3">40</text>
<text x="570.69" y="500.7" font-size="6.4" font-weight="bold" text-anchor="middle" font-family="Liberation Sans, sans-serif" fill="#2a2a2a" stroke="#2a2a2a" stroke-width="0.3">60</text>
<text x="590.76" y="500.7" font-size="6.4" font-weight="bold" text-anchor="middle" font-family="Liberation Sans, sans-serif" fill="#2a2a2a" stroke="#2a2a2a" stroke-width="0.3">80</text>
<text x="511" y="509.3" font-size="6.9" font-weight="bold" text-anchor="middle" font-family="Liberation Sans, sans-serif" fill="#2a2a2a" stroke="#2a2a2a" stroke-width="0.3">Choice (%)</text>
<rect x="615.7" y="383.8" width="8.6" height="3.3" fill="#d4d4d4"/>
<use href="#bugG" x="629" y="375" width="15.2" height="21.4"/>
<rect x="655" y="383.8" width="8.6" height="3.3" fill="#1a7fe8"/>
<use href="#bugR" x="669.3" y="375" width="14.9" height="21.4"/>
<text x="620" y="411" font-size="7.35" font-family="Liberation Sans, sans-serif" fill="#222" stroke="#222" stroke-width="0.12">β-Caryophyllene</text>
<rect x="632.1" y="475.6" width="14.8" height="10.24" fill="#d6d6d6"/>
<rect x="647.3" y="438.85" width="14.4" height="36.75" fill="#1a7fe8"/>
<path d="M639.3 485.84 V491.41 M635.9 491.41 H642.7" fill="none" stroke="#7a7a7a" stroke-width="1.0"/>
<path d="M654.5 438.85 V432.23 M651 432.23 H658" fill="none" stroke="#4a7aa0" stroke-width="1.0"/>
<path d="M624.7 475.6 H669.2" stroke="#555" stroke-width="1.5" fill="none"/>
<g stroke="#333" stroke-width="1.2" fill="none"><path d="M624.7 415 V506.5"/>
<path d="M620.9000000000001 415.36 H624.7"/>
<path d="M620.9000000000001 430.42 H624.7"/>
<path d="M620.9000000000001 445.48 H624.7"/>
<path d="M620.9000000000001 460.54 H624.7"/>
<path d="M620.9000000000001 475.6 H624.7"/>
<path d="M620.9000000000001 490.66 H624.7"/>
<path d="M620.9000000000001 505.72 H624.7"/>
</g>
<text x="621" y="417.76" font-size="6.8" font-weight="bold" text-anchor="end" font-family="Liberation Sans, sans-serif" fill="#222" stroke="#222" stroke-width="0.3">40</text>
<text x="621" y="432.82" font-size="6.8" font-weight="bold" text-anchor="end" font-family="Liberation Sans, sans-serif" fill="#222" stroke="#222" stroke-width="0.3">30</text>
<text x="621" y="447.88" font-size="6.8" font-weight="bold" text-anchor="end" font-family="Liberation Sans, sans-serif" fill="#222" stroke="#222" stroke-width="0.3">20</text>
<text x="621" y="462.94" font-size="6.8" font-weight="bold" text-anchor="end" font-family="Liberation Sans, sans-serif" fill="#222" stroke="#222" stroke-width="0.3">10</text>
<text x="621" y="478" font-size="6.8" font-weight="bold" text-anchor="end" font-family="Liberation Sans, sans-serif" fill="#222" stroke="#222" stroke-width="0.3">0</text>
<text x="621" y="493.06" font-size="6.8" font-weight="bold" text-anchor="end" font-family="Liberation Sans, sans-serif" fill="#222" stroke="#222" stroke-width="0.3">-10</text>
<text x="621" y="508.12" font-size="6.8" font-weight="bold" text-anchor="end" font-family="Liberation Sans, sans-serif" fill="#222" stroke="#222" stroke-width="0.3">-20</text>
<path d="M639 425 V420.1 H654.7 V425" fill="none" stroke="#333" stroke-width="0.9"/>
<text x="647" y="420.4" font-size="7" font-weight="bold" text-anchor="middle" font-family="Liberation Sans, sans-serif" fill="#222" stroke="#222" stroke-width="0.3">**</text>
<text transform="translate(605.6,462) rotate(-90)" font-size="7.2" text-anchor="middle" font-family="Liberation Sans, sans-serif" fill="#222" stroke="#222" stroke-width="0.12">Selection index (%)</text>
</svg>
<div style="position:absolute;left:0;top:541px;width:691px;height:1px;background:#666"></div><div style="position:absolute;left:0;top:542px;width:691px;height:1px;background:#000"></div>
</body></html>
